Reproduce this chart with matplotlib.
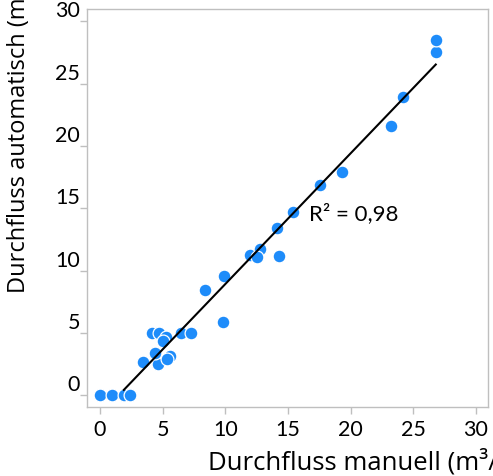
import matplotlib.pyplot as plt

plt.rcParams['font.family'] = ['Lato', 'DejaVu Sans']

manuell = [0.0, 0.96, 1.9, 2.4, 3.4, 4.66, 4.36, 4.12, 4.68, 5.27, 5.05, 5.59, 5.37,
           6.44, 7.29, 9.79, 8.35, 9.9, 11.97, 12.77, 12.56, 14.29, 14.13, 15.43,
           17.53, 19.29, 23.25, 24.2, 26.8, 26.8]
automatisch = [0.0, 0.0, 0.0, 0.0, 2.7, 2.5, 3.36, 4.97, 5.0, 4.65, 4.33, 3.15, 2.91,
               5.0, 5.0, 5.87, 8.44, 9.53, 11.24, 11.7, 11.06, 11.14, 13.43, 14.69,
               16.85, 17.95, 21.58, 23.93, 27.53, 28.55]

# Trendlinie
steigung = 1.049
achsenabschnitt = -1.57
trend_x = [1.9, 26.8]
r2_text = 'R² = 0,98'

ticks = [0, 5, 10, 15, 20, 25, 30]

fig = plt.figure(figsize=(4.93, 4.76), dpi=100)
ax = fig.add_axes([87/493, 1 - 407/476, (488 - 87)/493, (407 - 9)/476])

ax.scatter(manuell, automatisch, s=85, color='#1E8CFA', edgecolors='white',
           linewidths=0.9, zorder=2)
trend_y = [steigung*x + achsenabschnitt for x in trend_x]
ax.plot(trend_x, trend_y, color='black', linewidth=1.5, zorder=3)

ax.text(16.65, 14.6, r2_text, fontsize=16, va='center', ha='left')

ax.set_xlim(-1.04, 30.97)
ax.set_ylim(-0.95, 31.0)
ax.set_xticks(ticks)
ax.set_yticks(ticks)

for s in ax.spines.values():
    s.set_color('#BFBFBF')
    s.set_linewidth(1)
ax.tick_params(colors='#BFBFBF', labelcolor='black', length=5, width=1,
               labelsize=15.5)
ax.tick_params(axis='y', pad=0)
ax.tick_params(axis='x', pad=4)
for lab in ax.get_yticklabels():
    lab.set_va('bottom')

fig.text(208/493, 1 - 470/476, 'Durchfluss manuell (m³/s)', fontsize=18.5,
         family=['Open Sans', 'DejaVu Sans'], ha='left', va='baseline')
fig.text(19/493, 1 - 293/476, 'Durchfluss automatisch (m³/s)', fontsize=17,
         family=['Open Sans', 'DejaVu Sans'], rotation=90, ha='center', va='bottom')

fig.savefig('out.png', dpi=100)
